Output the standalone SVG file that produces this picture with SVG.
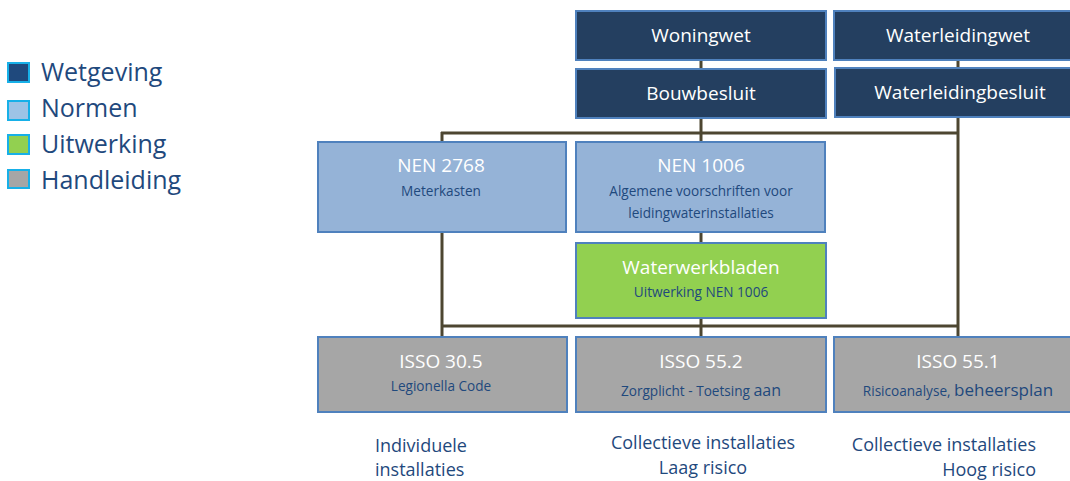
<svg xmlns="http://www.w3.org/2000/svg" width="1070" height="481" viewBox="0 0 1070 481">
<style>
.box{stroke:#4f81bd;stroke-width:2}
.wet{fill:#243f60}
.norm{fill:#95b3d7}
.uit{fill:#92d050}
.hand{fill:#a6a6a6}
.t{font-family:"Open Sans","Liberation Sans",sans-serif;fill:#ffffff;font-size:19px;text-anchor:middle}
.s{font-family:"Open Sans","Liberation Sans",sans-serif;fill:#1f497d;font-size:13.6px;text-anchor:middle}
.lab{font-family:"Open Sans","Liberation Sans",sans-serif;fill:#1f497d;font-size:18px}
.leg{font-family:"Open Sans","Liberation Sans",sans-serif;fill:#1f497d;font-size:25px}
.lsq{stroke:#17b0e8;stroke-width:2}
.con{stroke:#4d4631;stroke-width:3;fill:none}
</style>
<rect width="1070" height="481" fill="#ffffff"/>
<g id="legend">
<rect class="lsq" x="8" y="63" width="21" height="19" fill="#1f497d"/>
<text class="leg" x="41" y="81">Wetgeving</text>
<rect class="lsq" x="8" y="101" width="21" height="19" fill="#9dc3e6"/>
<text class="leg" x="41" y="117">Normen</text>
<rect class="lsq" x="8" y="135" width="21" height="19" fill="#92d050"/>
<text class="leg" x="41" y="153">Uitwerking</text>
<rect class="lsq" x="8" y="170" width="21" height="18" fill="#a6a6a6"/>
<text class="leg" x="41" y="189">Handleiding</text>
</g>
<g id="connectors">
<line class="con" x1="701" y1="60" x2="701" y2="69"/>
<line class="con" x1="958" y1="60" x2="958" y2="68"/>
<line class="con" x1="701" y1="118" x2="701" y2="142"/>
<line class="con" x1="441" y1="133" x2="958" y2="133"/>
<line class="con" x1="958" y1="117" x2="958" y2="337"/>
<line class="con" x1="442" y1="132" x2="442" y2="337"/>
<line class="con" x1="701" y1="232" x2="701" y2="243"/>
<line class="con" x1="701" y1="318" x2="701" y2="337"/>
<line class="con" x1="442" y1="326" x2="958" y2="326"/>
</g>
<g id="woningwet">
<rect class="box wet" x="576" y="11" width="250" height="49"/>
<text class="t" x="701" y="42">Woningwet</text>
</g>
<g id="waterleidingwet">
<rect class="box wet" x="834" y="11" width="248" height="49"/>
<text class="t" x="958" y="42">Waterleidingwet</text>
</g>
<g id="bouwbesluit">
<rect class="box wet" x="576" y="69" width="250" height="49"/>
<text class="t" x="701" y="100">Bouwbesluit</text>
</g>
<g id="waterleidingbesluit">
<rect class="box wet" x="835" y="68" width="250" height="49"/>
<text class="t" x="960" y="99">Waterleidingbesluit</text>
</g>
<g id="nen2768">
<rect class="box norm" x="318" y="142" width="248" height="90"/>
<text class="t" x="441" y="172">NEN 2768</text>
<text class="s" x="441" y="196">Meterkasten</text>
</g>
<g id="nen1006">
<rect class="box norm" x="576" y="142" width="249" height="90"/>
<text class="t" x="701" y="172">NEN 1006</text>
<text class="s" x="701" y="196">Algemene voorschriften voor</text>
<text class="s" x="701" y="218">leidingwaterinstallaties</text>
</g>
<g id="waterwerkbladen">
<rect class="box uit" x="576" y="243" width="250" height="75"/>
<text class="t" x="701" y="274">Waterwerkbladen</text>
<text class="s" x="701" y="297">Uitwerking NEN 1006</text>
</g>
<g id="isso305">
<rect class="box hand" x="318" y="337" width="249" height="75"/>
<text class="t" x="441" y="368">ISSO 30.5</text>
<text class="s" x="441" y="391">Legionella Code</text>
</g>
<g id="isso552">
<rect class="box hand" x="576" y="337" width="250" height="75"/>
<text class="t" x="701" y="368">ISSO 55.2</text>
<text class="s" x="701" y="396">Zorgplicht - Toetsing <tspan font-size="16px">aan</tspan></text>
</g>
<g id="isso551">
<rect class="box hand" x="834" y="337" width="250" height="75"/>
<text class="t" x="958" y="368">ISSO 55.1</text>
<text class="s" x="958" y="396">Risicoanalyse, <tspan font-size="17px">beheersplan</tspan></text>
</g>
<g id="labels">
<text class="lab" x="375" y="452">Individuele</text>
<text class="lab" x="375" y="476">installaties</text>
<text class="lab" x="703" y="449" text-anchor="middle">Collectieve installaties</text>
<text class="lab" x="703" y="474" text-anchor="middle">Laag risico</text>
<text class="lab" x="1036" y="451" text-anchor="end">Collectieve installaties</text>
<text class="lab" x="1036" y="476" text-anchor="end">Hoog risico</text>
</g>
</svg>
